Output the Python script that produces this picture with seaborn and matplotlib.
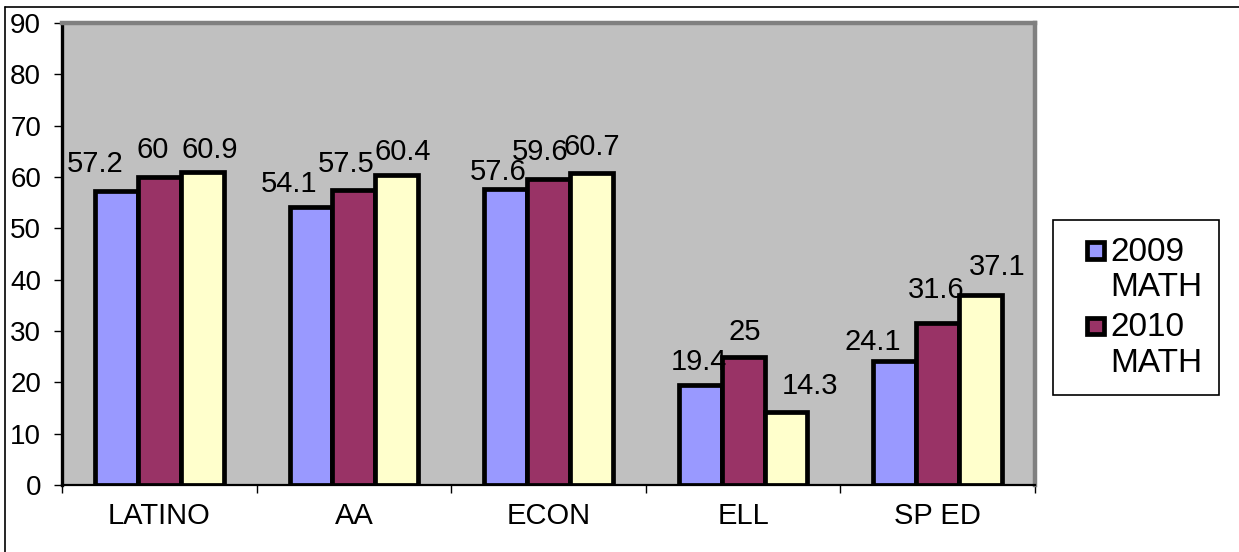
import numpy as np
import pandas as pd
import seaborn as sns
import matplotlib.pyplot as plt
from matplotlib.lines import Line2D
from matplotlib.patches import Rectangle
from matplotlib.legend_handler import HandlerPatch

groups = ["LATINO", "AA", "ECON", "ELL", "SP ED"]
series = ["2009\nMATH", "2010\nMATH", "2011\nMATH"]
math_2009 = [57.2, 54.1, 57.6, 19.4, 24.1]
math_2010 = [60, 57.5, 59.6, 25, 31.6]
math_2011 = [60.9, 60.4, 60.7, 14.3, 37.1]
colors = ["#9999FF", "#993366", "#FFFFCC"]

# label nudges in pixels (sideways, gap above bar)
label_dx = [[-21, -22, -8, -1, -22], [-7, -8, -8, 2, -2], [8, 6, 1, 24, 17]]
label_gap = [[19, 15, 9, 15, 11], [19, 18, 19, 17, 25], [14, 15, 18, 18, 20]]

df = pd.DataFrame({
    "group": groups * 3,
    "series": np.repeat(series, len(groups)),
    "score": math_2009 + math_2010 + math_2011,
})

sns.set_style("white")
plt.rcParams["font.family"] = ["Liberation Sans", "DejaVu Sans"]
plt.rcParams["text.color"] = "black"
plt.rcParams["xtick.color"] = "black"
plt.rcParams["ytick.color"] = "black"

fig = plt.figure(figsize=(12.39, 5.52), dpi=100)
ax = fig.add_axes([62 / 1239, 67 / 552, 973 / 1239, 462 / 552])
sns.barplot(data=df, x="group", y="score", hue="series", order=groups,
            hue_order=series, palette=colors, width=0.66, gap=0,
            saturation=1, edgecolor="black", linewidth=3.4,
            errorbar=None, legend=False, ax=ax)

# value labels
for i, cont in enumerate(ax.containers):
    for j, bar in enumerate(cont):
        v = bar.get_height()
        ax.annotate(f"{v:g}", (bar.get_x() + bar.get_width() / 2, v),
                    xytext=(label_dx[i][j] * 0.72, label_gap[i][j] * 0.72),
                    textcoords="offset points", ha="center", va="baseline",
                    fontsize=21, color="black")

ax.set_facecolor("#C0C0C0")
ax.set_ylim(0, 90)
ax.set_xlim(-0.5, 4.5)
ax.set_yticks(range(0, 91, 10))
ax.set_xlabel("")
ax.set_ylabel("")

for side in ["top", "right"]:
    ax.spines[side].set_color("#808080")
    ax.spines[side].set_linewidth(3.2)
ax.spines["left"].set_color("black")
ax.spines["left"].set_linewidth(2.4)
ax.spines["bottom"].set_color("black")
ax.spines["bottom"].set_linewidth(1.6)

ax.tick_params(axis="y", left=True, direction="out", length=6, width=1,
               pad=9, labelsize=20, colors="black")
ax.tick_params(axis="x", which="major", bottom=True, length=0, pad=12,
               labelsize=21, colors="black")
ax.set_xticks(np.arange(-0.5, 5, 1), minor=True)
ax.tick_params(axis="x", which="minor", bottom=True, direction="out",
               length=6, width=1, color="black")


def top_square(legend, orig_handle, xdescent, ydescent, width, height, fontsize):
    # small swatch at the right of the handle box, next to the first text line
    sq = 0.5 * fontsize
    return Rectangle((-xdescent + width - sq, -ydescent + 0.62 * fontsize), sq, sq)


# legend only lists the first two series, as in the original
leg = ax.legend(handles=[ax.containers[0][0], ax.containers[1][0]],
                labels=series[:2], loc="upper left",
                bbox_to_anchor=(1053 / 1239, 1 - 220 / 552),
                bbox_transform=fig.transFigure, fontsize=24, frameon=True,
                fancybox=False, framealpha=1, edgecolor="black",
                borderpad=0.5, handlelength=1.02, handleheight=0.5,
                handletextpad=0.21, labelspacing=0.25, borderaxespad=0,
                handler_map={Rectangle: HandlerPatch(patch_func=top_square)})
leg.get_frame().set_linewidth(1.2)

# outer chart frame (left and top edges visible)
fig.add_artist(Line2D([5 / 1239, 5 / 1239], [0, 1 - 7 / 552],
                      transform=fig.transFigure, color="black", lw=1.2))
fig.add_artist(Line2D([5 / 1239, 1], [1 - 7 / 552, 1 - 7 / 552],
                      transform=fig.transFigure, color="black", lw=1.2))

fig.savefig("out.png", dpi=100)
